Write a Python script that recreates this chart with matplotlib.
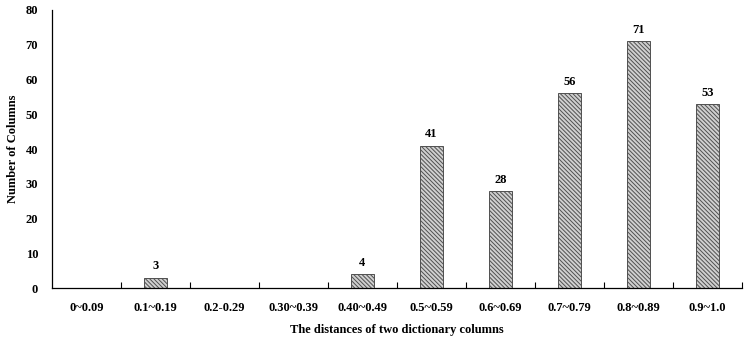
import numpy as np
import matplotlib
matplotlib.use('Agg')
import matplotlib.pyplot as plt

# distance bins and counts
categories = ['0~0.09', '0.1~0.19', '0.2-0.29', '0.30~0.39', '0.40~0.49',
              '0.5~0.59', '0.6~0.69', '0.7~0.79', '0.8~0.89', '0.9~1.0']
counts = [0, 3, 0, 0, 4, 41, 28, 56, 71, 53]
yticks = [0, 10, 20, 30, 40, 50, 60, 70, 80]

plt.rcParams['font.family'] = ['Liberation Serif', 'DejaVu Serif']
plt.rcParams['font.weight'] = 'bold'
plt.rcParams['hatch.color'] = '#8a8a8a'
plt.rcParams['hatch.linewidth'] = 0.7

fig = plt.figure(figsize=(7.48, 3.43), dpi=100)
ax = fig.add_axes([0.0695, 0.160, 0.9225, 0.811])

x = np.arange(len(categories))
for xi, c in zip(x, counts):
    if c > 0:
        ax.bar(xi, c, width=0.32, facecolor='#d0d0d0', edgecolor='#505050',
               hatch='\\\\\\\\\\\\\\\\', linewidth=0.7)
        ax.text(xi, c + 1.5, str(c), ha='center', va='bottom',
                fontsize=9, fontweight='bold')

ax.set_xlim(-0.5, len(categories) - 0.5)
ax.set_ylim(0, 80)
ax.set_yticks(yticks)
ax.set_xticks(x)
ax.set_xticklabels(categories)
ax.set_xticks(np.arange(0.5, len(categories), 1), minor=True)
ax.tick_params(axis='x', which='major', length=0, pad=10, labelsize=9)
ax.tick_params(axis='x', which='minor', direction='in', length=4, width=0.8)
ax.tick_params(axis='y', length=0, pad=10, labelsize=9)

ax.spines['top'].set_visible(False)
ax.spines['right'].set_visible(False)
ax.spines['left'].set_linewidth(0.9)
ax.spines['bottom'].set_linewidth(0.9)

ax.set_xlabel('The distances of two dictionary columns', fontsize=9,
              fontweight='bold')
ax.xaxis.set_label_coords(0.5, -0.13)
ax.set_ylabel('Number of Columns', fontsize=9, fontweight='bold')
ax.yaxis.set_label_coords(-0.048, 0.5)

fig.savefig('out.png', dpi=100)
